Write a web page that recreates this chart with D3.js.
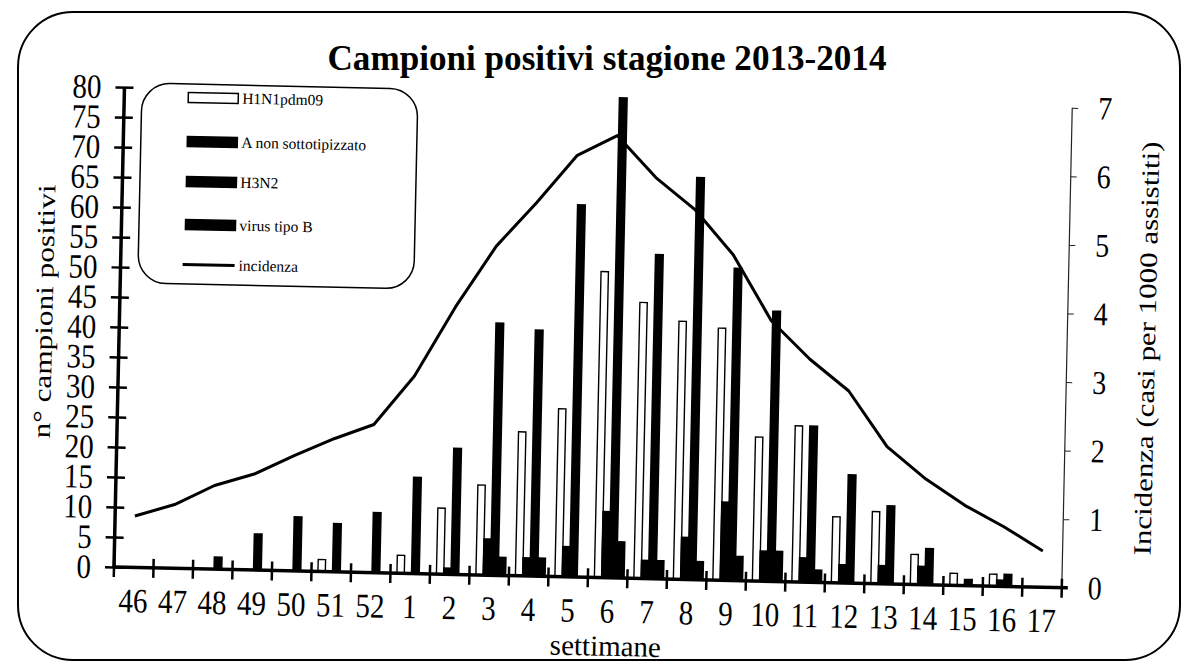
<!DOCTYPE html>
<html>
<head>
<meta charset="utf-8">
<script src="https://cdn.jsdelivr.net/npm/d3@7"></script>
<style>
  body { margin: 0; background: #fff; }
  svg text { font-family: "Liberation Serif", "Times New Roman", Times, serif !important; fill: #000; }
</style>
</head>
<body>
<script>
// Data
var weeks = ["46","47","48","49","50","51","52","1","2","3","4","5","6","7","8","9","10","11","12","13","14","15","16","17"]
var h1n1 = [0,0,0,0,0,2,0,3,11,15,24,28,51,46,43,42,24,26,11,12,5,2,2,0]
var aNonSottotipizzato = [0,0,0,0,0,0,0,0,1,6,3,5,11,3,7,13,5,4,3,3,3,0,1,0]
var h3n2 = [0,0,2,6,9,8,10,16,21,42,41,62,80,54,67,52,45,26,18,13,6,1,2,0]
var virusB = [0,0,0,0,0,0,0,0,0,3,3,0,6,3,3,4,5,2,0,0,0,0,0,0]
var incidenza = [0.75,0.93,1.22,1.40,1.68,1.94,2.16,2.88,3.9,4.8,5.45,6.15,6.45,5.85,5.4,4.75,3.8,3.25,2.8,2.0,1.54,1.17,0.87,0.53]
var leftTicks = d3.range(0, 81, 5)
var rightTicks = d3.range(0, 8, 1)

var seriesKeys = ["H1N1pdm09", "A non sottotipizzato", "H3N2", "virus tipo B"]
var seriesValues = [h1n1, aNonSottotipizzato, h3n2, virusB]
var seriesFill = ["#fff", "#000", "#000", "#000"]

// Sizes (the scan is tilted a little, so the plot is rotated)
var svgW = 1184, svgH = 669
var plotL = 114, plotR = 1062, plotT = 87, plotB = 567
var tilt = 1.25
var stretch = 1.18 // the scanned digits are taller than wide
var serif = "'Liberation Serif', 'Times New Roman', Times, serif"

var svg = d3.select("body").append("svg")
            .attr("width", svgW)
            .attr("height", svgH)
            .attr("font-family", serif)

// Rounded page frame
svg.append("rect")
   .attr("x", 18).attr("y", 12)
   .attr("width", 1162).attr("height", 648)
   .attr("rx", 55).attr("ry", 55)
   .style("fill", "none")
   .style("stroke", "#000")
   .style("stroke-width", 2)

// Title
svg.append("text")
   .attr("x", 607)
   .attr("y", 70)
   .style("text-anchor", "middle")
   .style("font-size", "35px")
   .style("font-weight", "bold")
   .attr("textLength", 559)
   .attr("lengthAdjust", "spacingAndGlyphs")
   .text("Campioni positivi stagione 2013-2014")

var plot = svg.append("g")
              .attr("transform", "rotate(" + tilt + "," + plotL + "," + plotB + ")")

// Scales
var xScale = d3.scaleBand().domain(weeks).range([plotL, plotR]).padding(0)
var innerScale = d3.scaleBand().domain(seriesKeys).range([6.5, 36]).padding(0)
var yLeft = d3.scaleLinear().domain([0, 80]).range([plotB, plotT])
var yRight = d3.scaleLinear().domain([0, 7]).range([plotB, plotT])

// Bars
var barData = []
weeks.forEach(function(w, i) {
  seriesKeys.forEach(function(k, j) {
    if (seriesValues[j][i] > 0) {
      barData.push({week: w, key: k, value: seriesValues[j][i], fill: seriesFill[j]})
    }
  })
})

plot.selectAll(".bar")
    .data(barData)
    .enter()
    .append("rect")
      .attr("class", "bar")
      .attr("x", function(d) { return xScale(d.week) + innerScale(d.key) })
      .attr("y", function(d) { return yLeft(d.value) })
      .attr("width", innerScale.bandwidth())
      .attr("height", function(d) { return yLeft(0) - yLeft(d.value) })
      .style("fill", function(d) { return d.fill })
      .style("stroke", "#000")
      .style("stroke-width", function(d) { return d.fill == "#fff" ? 1.4 : 1.8 })

// Incidence line
var lineData = weeks.map(function(w, i) { return {week: w, value: incidenza[i]} })
var line = d3.line()
             .x(function(d) { return xScale(d.week) + xScale.bandwidth() / 2 })
             .y(function(d) { return yRight(d.value) })
plot.append("path")
    .datum(lineData)
    .attr("d", line)
    .style("fill", "none")
    .style("stroke", "#000")
    .style("stroke-width", 3)
    .style("stroke-linejoin", "round")

// Left axis: thick line, ticks crossing it
var leftAxis = plot.append("g")
                   .attr("transform", "translate(" + plotL + ",0)")
                   .call(d3.axisLeft(yLeft).tickValues(leftTicks).tickFormat(d3.format("d")).tickSize(9))
leftAxis.attr("font-family", serif)
leftAxis.select(".domain").remove()
leftAxis.selectAll(".tick line").attr("x1", -9).attr("x2", 9).style("stroke-width", 2.5)
leftAxis.selectAll(".tick text")
        .attr("x", -23)
        .attr("transform", "scale(1," + stretch + ")")
        .style("font-size", "29px")
leftAxis.append("line")
        .attr("y1", plotT).attr("y2", plotB)
        .style("stroke", "#000").style("stroke-width", 3.5)

// Right axis: thin line, small outward ticks
var rightAxis = plot.append("g")
                    .attr("transform", "translate(" + plotR + ",0)")
                    .call(d3.axisRight(yRight).tickValues(rightTicks).tickFormat(d3.format("d")).tickSize(6))
rightAxis.attr("font-family", serif)
rightAxis.select(".domain").remove()
rightAxis.selectAll(".tick line").style("stroke", "#222").style("stroke-width", 1)
rightAxis.selectAll(".tick text")
         .attr("x", 26)
         .attr("transform", "scale(1," + stretch + ")")
         .style("font-size", "28px")
rightAxis.append("line")
         .attr("y1", plotT).attr("y2", plotB)
         .style("stroke", "#222").style("stroke-width", 1.2)

// X axis: labels centred on weeks, ticks on the boundaries
var xAxis = plot.append("g")
                .attr("transform", "translate(0," + plotB + ")")
                .call(d3.axisBottom(xScale).tickSize(0))
xAxis.attr("font-family", serif)
xAxis.select(".domain").remove()
xAxis.selectAll(".tick text")
     .attr("y", 38)
     .attr("dy", 0)
     .attr("transform", "scale(1," + stretch + ")")
     .style("font-size", "29px")
var boundaries = weeks.map(function(w) { return xScale(w) }).concat([plotR])
xAxis.selectAll(".boundary")
     .data(boundaries)
     .enter()
     .append("line")
       .attr("class", "boundary")
       .attr("x1", function(d) { return d }).attr("x2", function(d) { return d })
       .attr("y1", -9).attr("y2", 10)
       .style("stroke", "#000").style("stroke-width", 2.5)
xAxis.append("line")
     .attr("x1", plotL).attr("x2", plotR + 6)
     .style("stroke", "#000").style("stroke-width", 3.5)

// Axis titles
plot.append("text")
    .attr("transform", "translate(47,313) rotate(-90)")
    .style("text-anchor", "middle")
    .style("font-size", "25px")
    .attr("textLength", 254)
    .attr("lengthAdjust", "spacingAndGlyphs")
    .text("n° campioni positivi")

plot.append("text")
    .attr("transform", "translate(1150,326) rotate(-90)")
    .style("text-anchor", "middle")
    .style("font-size", "25px")
    .attr("textLength", 414)
    .attr("lengthAdjust", "spacingAndGlyphs")
    .text("Incidenza (casi per 1000 assistiti)")

plot.append("text")
    .attr("x", 607)
    .attr("y", 645)
    .style("text-anchor", "middle")
    .style("font-size", "29px")
    .text("settimane")

// Legend
var legend = plot.append("g").attr("class", "legend")
legend.append("rect")
      .attr("x", 131.5).attr("y", 82.5)
      .attr("width", 276).attr("height", 200)
      .attr("rx", 28).attr("ry", 28)
      .style("fill", "none")
      .style("stroke", "#000")
      .style("stroke-width", 1.5)

var legendItems = seriesKeys.map(function(k, j) { return {label: k, fill: seriesFill[j], type: "bar"} })
legendItems.push({label: "incidenza", fill: "none", type: "line"})
var legendRows = [96, 140, 180, 223, 263]

var rows = legend.selectAll(".row")
                 .data(legendItems)
                 .enter()
                 .append("g")
                   .attr("class", "row")
                   .attr("transform", function(d, i) { return "translate(178," + legendRows[i] + ")" })
rows.filter(function(d) { return d.type == "bar" })
    .append("rect")
      .attr("x", 0).attr("y", -5)
      .attr("width", 50).attr("height", 10)
      .style("fill", function(d) { return d.fill })
      .style("stroke", "#000")
      .style("stroke-width", 1.5)
rows.filter(function(d) { return d.type == "line" })
    .append("line")
      .attr("x1", -2).attr("x2", 50)
      .style("stroke", "#000")
      .style("stroke-width", 3)
rows.append("text")
    .attr("x", 54)
    .attr("y", 5)
    .style("font-size", "15.5px")
    .text(function(d) { return d.label })
</script>
</body>
</html>
